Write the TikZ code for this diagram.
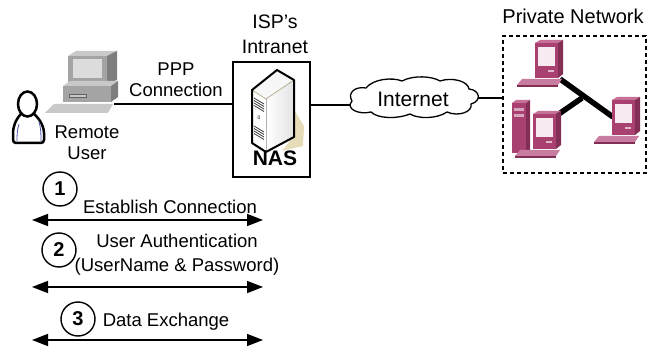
\documentclass[tikz,border=0pt]{standalone}
\usepackage{fontspec}
\setmainfont{Liberation Sans}
\usetikzlibrary{arrows.meta}

% colours of the icons
\definecolor{pcface}{HTML}{A4A4A4}
\definecolor{pctop}{HTML}{C9C9C9}
\definecolor{pcside}{HTML}{7E7E7E}
\definecolor{pcscreen}{HTML}{DCDCDC}
\definecolor{pcdark}{HTML}{606060}
\definecolor{plface}{HTML}{A8416F}
\definecolor{pltop}{HTML}{C66F97}
\definecolor{plside}{HTML}{822E55}
\definecolor{plscreen}{HTML}{F7EAF0}
\definecolor{plkey}{HTML}{C77CA0}
\definecolor{srvshadow}{HTML}{E6DCB8}
\definecolor{usrblue}{HTML}{4A55A8}

\tikzset{
  lbl/.style={font=\fontsize{18.5}{21}\selectfont, align=center, inner sep=0pt},
  link/.style={line width=1.5pt},
  boxframe/.style={draw, line width=1.5pt, inner sep=0pt},
  numcircle/.style={circle, draw, line width=1.4pt, minimum size=34pt, inner sep=0pt,
    font=\bfseries\fontsize{20}{22}\selectfont},
  dblarrow/.style={line width=1.6pt,
    {Triangle[length=16pt,width=12pt]}-{Triangle[length=16pt,width=12pt]}},
  lanwire/.style={line width=5.5pt},
}

% a purple desktop: monitor whose front face starts at #1, keyboard below it
\newcommand{\purplepc}[1]{%
  \begin{scope}[shift={#1}]
    \fill[pltop] (0,0) -- (5,-3) -- (28,-3) -- (23,0) -- cycle;
    \fill[plside] (23,0) -- (28,-3) -- (28,31) -- (23,35) -- cycle;
    \fill[plface] (0,0) rectangle (23,35);
    \fill[plscreen] (3,4) rectangle (20,23);
    \fill[plscreen!70!plface] (13,27) rectangle (19,29);
    \fill[plkey] (-18,42) -- (-13,36) -- (27,36) -- (23,42) -- cycle;
    \fill[plside] (-18,42) -- (23,42) -- (23,44) -- (-18,44) -- cycle;
  \end{scope}}

\begin{document}
\begin{tikzpicture}[x=1pt,y=-1pt]
\useasboundingbox (0,0) rectangle (648,347);

% ---------- remote user ----------
\draw[line width=2.5pt, fill=white, rounded corners=3pt]
  (21,114) .. controls (15,120) and (13,128) .. (13,136) -- (13,143) -- (44,143)
  -- (44,136) .. controls (44,128) and (41,120) .. (34,114);
\draw[usrblue, line width=0.8pt] (19,124) .. controls (17,130) and (17,136) .. (17,141);
\draw[usrblue, line width=0.8pt] (39,122) .. controls (41,128) and (41,135) .. (41,141);
\draw[line width=2.5pt, fill=white] (27.5,104) ellipse [x radius=9.5, y radius=12.5];
\node[lbl] (user) at (87,143) {Remote\\User};

% ---------- grey workstation ----------
\fill[pctop] (68,56) -- (76,51) -- (117,51) -- (107,56) -- cycle;
\fill[pcside] (107,56) -- (117,51) -- (117,80) -- (107,84) -- cycle;
\fill[pcface] (68,56) rectangle (107,84);
\fill[pcscreen] (73,59) rectangle (102,78);
\fill[pctop] (63,86) -- (70,81) -- (118,81) -- (111,86) -- cycle;
\fill[pcside] (111,86) -- (118,81) -- (118,97) -- (111,102) -- cycle;
\fill[pcface] (63,86) rectangle (111,102);
\draw[pcdark, fill=pctop, line width=0.6pt] (69,94) rectangle (86,97);
\fill[pctop] (45,113) -- (54,104) -- (113,104) -- (108,113) -- cycle;
\coordinate (pc) at (114,104);
\node[lbl] (ppp) at (176,80) {PPP\\Connection};

% ---------- NAS ----------
\node[boxframe, minimum width=77pt, minimum height=115pt] (nas) at (271.5,119.5) {};
\node[lbl, font=\fontsize{19.5}{25}\selectfont] (isp) at (275,34) {ISP’s\\Intranet};
% server tower
\fill[srvshadow] (293,108) -- (304,126) -- (303,146) -- (282,151) -- (293,137) -- cycle;
\fill[gray!6] (252,90) -- (277,70) -- (294,80) -- (266,99) -- cycle;
\shade[left color=white, right color=gray!22] (266,99) -- (294,80) -- (294,137) -- (266,152) -- cycle;
\fill[white] (252,90) -- (266,99) -- (266,152) -- (252,143) -- cycle;
\draw[srvshadow!80!black, line width=0.8pt] (252,90) -- (266,99) -- (294,80);
\draw[gray!60, line width=0.6pt] (266,99) -- (266,152);
\draw[line width=2pt, line join=round]
  (252,90) -- (277,70) -- (294,80) -- (294,137) -- (266,152) -- (252,143) -- cycle;
\foreach \k in {0,2.5,5,7.5}
  \draw[black!75, line width=0.8pt] (254,98+\k) -- (264,104+\k);
\node[font=\fontsize{5}{5}\selectfont, inner sep=0pt] (led) at (259,118) {0};
\foreach \k in {0,2.5,5,7.5}
  \draw[black!75, line width=0.8pt] (254,126+\k) -- (264,132+\k);
\node[lbl, font=\bfseries\fontsize{21}{23}\selectfont] (naslbl) at (275,158) {NAS};

% ---------- Internet cloud ----------
\draw[line width=1.3pt, fill=white, line join=round]
  (352,101) .. controls (347,93) and (355,86) .. (366,88)
  .. controls (373,79) and (392,77) .. (402,81)
  .. controls (413,75) and (432,76) .. (440,81)
  .. controls (452,77) and (468,81) .. (469,89)
  .. controls (480,90) and (482,101) .. (471,104)
  .. controls (473,112) and (458,117) .. (447,112)
  .. controls (437,119) and (418,119) .. (410,114)
  .. controls (398,119) and (378,119) .. (371,112)
  .. controls (359,115) and (345,109) .. (352,101) -- cycle;
\node[lbl, font=\fontsize{21}{23}\selectfont] (inetlbl) at (413,99) {Internet};
\coordinate (inetL) at (351,105);
\coordinate (inetR) at (478,98);

% ---------- private network ----------
\node[draw, line width=1.5pt, dash pattern=on 4pt off 3pt, minimum width=143pt,
  minimum height=137pt, inner sep=0pt] (priv) at (574.5,104.5) {};
\node[lbl, font=\fontsize{20}{22}\selectfont] (privlbl) at (573,16) {Private Network};
\coordinate (hub) at (582,98);
\coordinate (pcA) at (560,79);
\coordinate (pcB) at (613,117);
\coordinate (pcC) at (553,118);
\draw[lanwire] (pcA) -- (pcB);
\draw[lanwire] (hub) -- (pcC);
\purplepc{(535,43)}
\purplepc{(612,100)}
% tower next to the lower monitor
\fill[pltop] (512,103) -- (516,100) -- (530,100) -- (526,103) -- cycle;
\fill[plside] (526,103) -- (530,100) -- (530,150) -- (526,153) -- cycle;
\fill[plface] (512,103) rectangle (526,153);
\fill[plscreen!60!plface] (514,108) rectangle (524,111);
\fill[plscreen!60!plface] (514,114) rectangle (524,117);
\purplepc{(533,114)}

% ---------- connections ----------
\draw[link] (pc) -- (pc -| nas.west);
\draw[link] (nas.east |- inetL) -- (inetL);
\draw[link] (inetR) -- (inetR -| priv.west);

% ---------- session steps ----------
\node[numcircle] (s1) at (60,189) {1};
\node[lbl] (t1) at (170,207) {Establish Connection};
\coordinate (a1l) at (32,220);
\coordinate (a1r) at (263,220);
\draw[dblarrow] (a1l) -- (a1r);

\node[numcircle] (s2) at (59,250) {2};
\node[lbl, font=\fontsize{18.5}{24}\selectfont] (t2) at (177,255) {User Authentication\\(UserName \& Password)};
\coordinate (a2l) at (32,287);
\coordinate (a2r) at (263,287);
\draw[dblarrow] (a2l) -- (a2r);

\node[numcircle] (s3) at (78,319) {3};
\node[lbl] (t3) at (166,322) {Data Exchange};
\coordinate (a3l) at (32,340);
\coordinate (a3r) at (263,340);
\draw[dblarrow] (a3l) -- (a3r);
\end{tikzpicture}
\end{document}
